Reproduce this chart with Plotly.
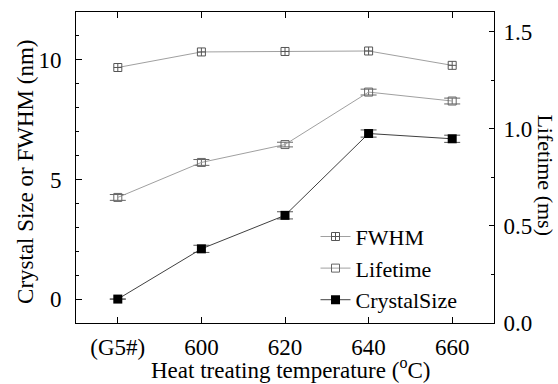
import plotly.graph_objects as go

# Heat treating temperature (°C); 580 stands in for the untreated glass (G5#)
temps = [580, 600, 620, 640, 660]
tick_text = ["(G5#)", "600", "620", "640", "660"]

fwhm = [9.68, 10.33, 10.35, 10.37, 9.77]          # nm
lifetime = [0.646, 0.826, 0.918, 1.188, 1.142]     # ms
lifetime_err = [0.015, 0.015, 0.012, 0.015, 0.015]
crystal = [0.0, 2.1, 3.5, 6.92, 6.7]               # nm
crystal_err = [0.0, 0.15, 0.15, 0.15, 0.15]

FONT = "Liberation Serif"
TICK_FS = 23
TITLE_FS = 23

fig = go.Figure()

fig.add_trace(go.Scatter(
    x=temps, y=fwhm, name="FWHM", mode="lines+markers",
    line=dict(color="#a0a0a0", width=1),
    marker=dict(symbol="square-cross-open", size=8, color="#555555", line=dict(width=1)),
    yaxis="y",
))
fig.add_trace(go.Scatter(
    x=temps, y=lifetime, name="Lifetime", mode="lines+markers",
    line=dict(color="#a0a0a0", width=1),
    marker=dict(symbol="square-open", size=8, color="#666666", line=dict(width=1)),
    error_y=dict(type="data", array=lifetime_err, color="#666666", thickness=1, width=8),
    yaxis="y2",
))
fig.add_trace(go.Scatter(
    x=temps, y=crystal, name="CrystalSize", mode="lines+markers",
    line=dict(color="#404040", width=1),
    marker=dict(symbol="square", size=9, color="#000000"),
    error_y=dict(type="data", array=crystal_err, color="#555555", thickness=1, width=8),
    yaxis="y",
))

axis_common = dict(
    showline=True, linecolor="black", linewidth=1,
    ticks="inside", tickcolor="black", showgrid=False, zeroline=False,
    tickfont=dict(family=FONT, size=TICK_FS, color="black"),
)

title_font = dict(family=FONT, size=TITLE_FS, color="black")

fig.update_layout(
    width=558, height=384,
    margin=dict(l=76, r=64, t=12, b=61),
    paper_bgcolor="white", plot_bgcolor="white",
    font=dict(family=FONT, color="black"),
    showlegend=True,
    legend=dict(
        x=0.573, y=0.345, xanchor="left", yanchor="top",
        bgcolor="rgba(0,0,0,0)", borderwidth=0,
        font=dict(family=FONT, size=22, color="black"),
        tracegroupgap=0, itemwidth=30,
    ),
    xaxis=dict(
        **axis_common, range=[570, 670], tickvals=temps, ticktext=tick_text,
        ticklen=6, mirror="ticks", ticklabelstandoff=3,
    ),
    yaxis=dict(
        **axis_common, range=[-1, 12], tickvals=[0, 5, 10], ticklen=6,
        ticklabelstandoff=9,
        minor=dict(dtick=1, ticks="inside", ticklen=3, tickcolor="black"),
    ),
    yaxis2=dict(
        **axis_common, overlaying="y", side="right", range=[0, 1.6],
        tickvals=[0.0, 0.5, 1.0, 1.5], ticktext=["0.0", "0.5", "1.0", "1.5"],
        ticklen=5, ticklabelstandoff=4,
        minor=dict(dtick=0.25, ticks="inside", ticklen=3, tickcolor="black"),
    ),
    annotations=[
        dict(text="Heat treating temperature (<sup>o</sup>C)", xref="paper", yref="paper",
             x=0.513, y=-0.145, xanchor="center", yanchor="middle",
             showarrow=False, font=title_font),
        dict(text="Crystal Size or FWHM (nm)", textangle=-90, xref="paper", yref="paper",
             x=-0.121, y=0.487, xanchor="center", yanchor="middle",
             showarrow=False, font=title_font),
        dict(text="Lifetime (ms)", textangle=90, xref="paper", yref="paper",
             x=1.121, y=0.476, xanchor="center", yanchor="middle",
             showarrow=False, font=dict(family=FONT, size=22, color="black")),
    ],
)

fig.write_html("out.html")
